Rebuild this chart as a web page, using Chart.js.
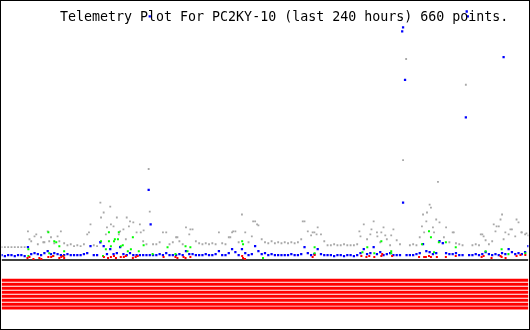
<!DOCTYPE html>
<html>
<head>
<meta charset="utf-8">
<script src="https://cdn.jsdelivr.net/npm/chart.js@4.4.1/dist/chart.umd.min.js"></script>
<style>
  html, body { margin: 0; padding: 0; background: #fff; }
  #wrap { position: relative; width: 530px; height: 330px; }
  #plot { position: absolute; left: 0; top: 0; }
  #title {
    position: absolute; left: 60px; top: 9px;
    font: 13.3px/16px "DejaVu Sans Mono", monospace;
    color: #000; white-space: pre;
  }
  #frame {
    position: absolute; left: 0; top: 0; right: 0; bottom: 0;
    border: 1px solid #000; box-sizing: border-box; pointer-events: none;
  }
</style>
</head>
<body>
<div id="wrap">
  <canvas id="plot" width="530" height="330"></canvas>
  <div id="title">Telemetry Plot For PC2KY-10 (last 240 hours) 660 points.</div>
  <div id="frame"></div>
</div>
<script>
const SPAN_HOURS = 240;
const SAMPLE_STEP = 1.5; // hours between samples of the two dense tracks

// gray channel, one reading every 1.5 h (null = no packet)
const grayTrack = [
  14, 14, 14, 14, 14, 14, 14, 14, 30, 20,
  25, 17, 24, 19, 30, 24, 18, 25, 30, 18,
  16, 17, 15, 16, 15, 17, 27, 37, 16, 15,
  59, 49, 34, 55, 35, 44, 30, 32, 44, 40,
  39, 29, 37, 20, 17, 50, 17, 17, 19, 29,
  29, 17, 19, 24, 20, 17, 34, 27, 32, 20,
  18, 17, 18, 17, 18, 17, 29, 18, 17, 24,
  29, 30, 19, 47, 29, 19, 25, 40, 36, 22,
  19, 18, 20, 18, 19, 18, 19, 18, 19, 18,
  19, 22, 40, 30, 26, 29, 34, 27, 20, 16,
  16, 17, 16, 16, 17, 16, 16, 16, 17, 25,
  37, 22, 27, 40, 29, 19, 34, 22, 16, 32,
  21, 17, null, null, 16, 17, 16, 24, 47, 40,
  57, 34, 42, 39, 18, 34, 19, 29, 18, 17,
  16, null, null, 16, 17, 16, 27, 21, 17, 20,
  30, 35, 47, 29, 27, 32, 25, 39, 29, 27,
  26
];

// blue channel, same sampling
const blueTrack = [
  6, 5, 6, 6, 5, 6, 6, 5, 14, 7,
  8, 7, 6, 8, 10, 7, 8, 7, 6, 6,
  7, 6, 6, 6, 6, 7, 8, 15, 6, 6,
  19, 15, 7, 12, 7, 8, 14, 7, 6, 8,
  6, 6, 6, 6, 6, 6, 6, 6, 7, 6,
  8, 6, 6, 6, 7, 6, 10, 7, 7, 6,
  6, 6, 7, 6, 6, 7, 10, 6, 6, 8,
  12, 9, 6, 12, 8, 6, 7, 15, 10, 7,
  8, 6, 7, 6, 6, 6, 6, 6, 7, 6,
  6, 7, 14, 8, 6, 7, 12, 7, 6, 6,
  6, 5, 6, 6, 5, 6, 6, 5, 6, 8,
  12, 7, 8, 14, 7, 9, 6, 7, 8, 6,
  6, 6, null, 6, 6, 6, 7, 8, 17, 10,
  9, 7, 8, 20, 18, 8, 7, 7, 8, 6,
  6, null, 6, 6, 7, 6, 7, 9, 7, 6,
  7, 6, 8, 7, 12, 9, 7, 8, 7, 9,
  15
];

// extra readings [hour, value]
const grayExtra = [
  [67.0, 93], [182.9, 102], [184.3, 204], [198.8, 80], [211.5, 178],
  [12.7, 22], [15.8, 27], [19.0, 19], [21.7, 20], [26.3, 20], [39.8, 29],
  [45.3, 44], [47.5, 27], [49.8, 37], [53.4, 27], [56.6, 22], [58.0, 35],
  [63.4, 29], [64.7, 31], [80.1, 24], [86.0, 32], [104.2, 24], [105.5, 30],
  [114.6, 40], [116.4, 37], [137.2, 40], [141.7, 29], [143.5, 27],
  [163.0, 30], [168.5, 32], [171.2, 25], [173.0, 29], [174.8, 26],
  [177.5, 26], [191.5, 35], [192.5, 29], [193.8, 49], [195.6, 54],
  [197.0, 29], [201.5, 24], [206.0, 29], [218.3, 27], [219.6, 25],
  [224.2, 37], [225.5, 35], [227.3, 42], [228.7, 22], [231.8, 32],
  [234.6, 42], [236.8, 29], [239.1, 28]
];

const blueExtra = [
  [67.5, 247], [182.5, 232], [182.9, 236], [211.9, 252], [212.4, 247],
  [228.7, 206], [183.8, 183], [211.5, 145], [182.9, 59], [67.0, 72],
  [67.9, 37]
];

const greenPoints = [
  [12.2, 12], [12.2, 5], [21.3, 29], [21.7, 8], [23.5, 5], [24.0, 20],
  [24.9, 19], [26.3, 15], [28.1, 5], [28.5, 10], [45.3, 20], [46.2, 5],
  [47.5, 12], [48.9, 29], [48.9, 20], [49.8, 15], [51.2, 20], [51.6, 22],
  [53.0, 22], [53.4, 29], [54.3, 15], [55.2, 16], [57.5, 10], [58.9, 12],
  [59.8, 24], [62.5, 10], [64.7, 16], [68.8, 7], [75.6, 14], [79.2, 7],
  [83.8, 15], [84.7, 10], [86.0, 14], [109.6, 20], [110.0, 17],
  [119.1, 3], [142.6, 14], [142.6, 8], [164.4, 9], [166.6, 14],
  [169.8, 8], [173.0, 20], [177.5, 10], [177.5, 8], [191.5, 17],
  [194.7, 30], [195.6, 24], [197.0, 9], [199.2, 19], [202.4, 19],
  [206.9, 14], [220.5, 10], [227.8, 12], [230.9, 7], [238.6, 8]
];

const redPoints = [
  [11.8, 3], [12.7, 4], [14.5, 2], [17.2, 3], [18.1, 2], [21.3, 4],
  [22.6, 4], [23.5, 5], [26.3, 3], [27.2, 4], [28.1, 5], [28.5, 3],
  [46.6, 4], [48.5, 3], [49.8, 4], [51.2, 5], [52.1, 3], [54.3, 4],
  [55.7, 4], [56.6, 5], [59.8, 3], [61.1, 4], [62.0, 5], [73.8, 4],
  [79.2, 4], [80.1, 3], [82.9, 4], [83.8, 3], [86.0, 4], [109.6, 5],
  [110.0, 3], [110.9, 2], [141.7, 4], [142.6, 6], [163.9, 5], [166.2, 4],
  [167.5, 5], [169.8, 4], [173.0, 5], [173.4, 7], [177.9, 5], [190.2, 4],
  [192.5, 4], [193.3, 4], [194.7, 5], [195.6, 4], [198.3, 4], [202.4, 4],
  [206.9, 5], [218.7, 4], [219.6, 5], [223.2, 3], [227.3, 5], [227.8, 4],
  [229.6, 3], [234.6, 5], [236.4, 6], [238.6, 6]
];

// the eight telemetry bits, all set for the whole period
const bitStates = [1, 1, 1, 1, 1, 1, 1, 1];

const FLOOR_LEVEL = 1;
const BIT_TOP = -19.5;
const BIT_GAP = 4;

const toPoints = (track) => track.map((v, i) => ({ x: i * SAMPLE_STEP, y: v }));
const pairs = (list) => list.map(([x, y]) => ({ x, y }));

const dots = (color, r) => ({
  backgroundColor: color,
  borderWidth: 0,
  pointStyle: 'rect',
  pointRadius: r,
  pointHoverRadius: r,
  showLine: false,
});

const band = (level, color, width) => ({
  data: [{ x: 0, y: level }, { x: SPAN_HOURS, y: level }],
  showLine: true,
  borderColor: color,
  borderWidth: width,
  borderCapStyle: 'butt',
  pointRadius: 0,
  pointHoverRadius: 0,
});

const datasets = [
  { label: 'red', data: pairs(redPoints), ...dots('#ff0000', 1.42) },
  { label: 'green', data: pairs(greenPoints), ...dots('#00ff00', 1.42) },
  { label: 'blue', data: toPoints(blueTrack).concat(pairs(blueExtra)), ...dots('#0000ff', 1.6) },
  { label: 'gray', data: toPoints(grayTrack).concat(pairs(grayExtra)), ...dots('#a8a8a8', 1.3) },
  { label: 'floor', ...band(FLOOR_LEVEL, '#404040', 2) },
];

bitStates.forEach((on, k) => {
  if (on) {
    datasets.push({ label: 'bit ' + (k + 1), ...band(BIT_TOP - k * BIT_GAP, '#ff0000', 3) });
  }
});

new Chart(document.getElementById('plot'), {
  type: 'scatter',
  data: { datasets },
  options: {
    responsive: false,
    animation: false,
    events: [],
    layout: { padding: 0 },
    plugins: {
      legend: { display: false },
      tooltip: { enabled: false },
      title: { display: false },
    },
    scales: {
      x: { type: 'linear', min: 0, max: SPAN_HOURS, display: false },
      y: { type: 'linear', min: -68, max: 262, display: false },
    },
  },
});
</script>
</body>
</html>
